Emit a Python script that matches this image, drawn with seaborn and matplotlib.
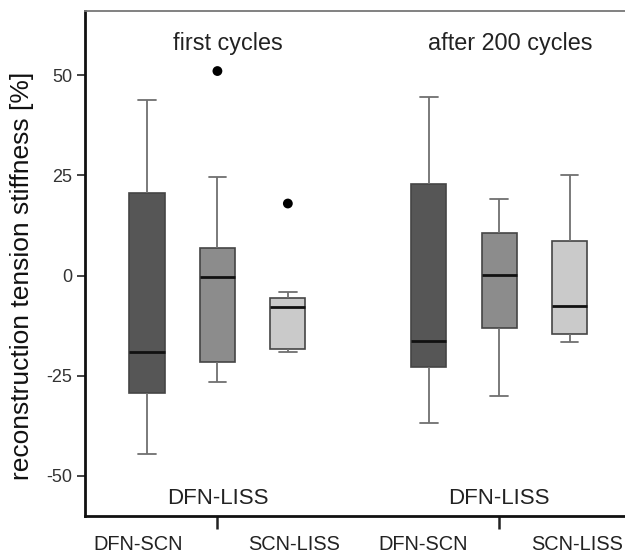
import numpy as np
import pandas as pd
import matplotlib
matplotlib.use("Agg")
import matplotlib.pyplot as plt
import seaborn as sns

# ---- data ----
positions = [0, 1, 2, 4, 5, 6]
groups = ["DFN-SCN", "DFN-LISS", "SCN-LISS", "DFN-SCN", "DFN-LISS", "SCN-LISS"]
phase = ["first cycles"] * 3 + ["after 200 cycles"] * 3
whisker_low = [-44.5, -26.5, -19.0, -36.8, -30.1, -16.5]
q1 = [-29.3, -21.5, -18.3, -22.8, -13.0, -14.5]
median = [-19.1, -0.3, -7.8, -16.3, 0.1, -7.6]
q3 = [20.7, 6.9, -5.6, 22.8, 10.7, 8.7]
whisker_high = [43.9, 24.5, -4.2, 44.5, 19.2, 25.2]
outlier_pos = [1, 2]
outlier_val = [51.1, 18.0]
colors = ["#565656", "#8c8c8c", "#cacaca", "#565656", "#8c8c8c", "#cacaca"]
xlabel_text = ["DFN-SCN", "SCN-LISS", "DFN-SCN", "SCN-LISS"]
ytick_vals = [-50, -25, 0, 25, 50]

rows = []
for p, lo, a, m, b, hi in zip(positions, whisker_low, q1, median, q3, whisker_high):
    for v in (lo, a, m, b, hi):
        rows.append({"pos": p, "value": v})
df = pd.DataFrame(rows)

sns.set_theme(style="white")
plt.rcParams["font.family"] = ["Liberation Sans", "DejaVu Sans"]

fig = plt.figure(figsize=(6.25, 5.55), dpi=100)
ax = fig.add_axes([85 / 625, 1 - 515.7 / 555, 1 - 85 / 625 + 0.006, (515.7 - 11) / 555])

palette = {p: c for p, c in zip(positions, colors)}
sns.boxplot(data=df, x="pos", y="value", hue="pos", palette=palette,
            native_scale=True, width=0.5, whis=np.inf, legend=False,
            linecolor="#454545", linewidth=1.2, saturation=1, ax=ax,
            whiskerprops=dict(color="#707070", linewidth=1.3),
            capprops=dict(color="#707070", linewidth=1.3),
            medianprops=dict(color="#111111", linewidth=2.0))

sns.scatterplot(x=outlier_pos, y=outlier_val, color="black", s=50,
                edgecolor="none", ax=ax, zorder=5)

ax.set_xlim(-0.88, 6.84)
ax.set_ylim(-60, 66.1)
ax.set_yticks(ytick_vals)
ax.set_yticklabels([str(v) for v in ytick_vals])
ax.tick_params(axis="y", which="major", left=True, length=6, width=1.2,
               color="#222222", labelsize=13, labelcolor="#333333", pad=3)

ax.set_xticks([-0.12, 2.09, 3.92, 6.1])
ax.set_xticklabels(xlabel_text)
ax.set_xticks([1, 5], minor=True)
ax.tick_params(axis="x", which="major", bottom=False, length=0, labelsize=14.4,
               labelcolor="#222222", pad=14)
ax.tick_params(axis="x", which="minor", bottom=True, length=9, width=1.8,
               color="#222222")

ax.set_xlabel("")
ax.set_ylabel("reconstruction tension stiffness [%]", fontsize=19,
              color="#111111", labelpad=9)
ax.yaxis.label.set_y(0.475)

for s in ("left", "bottom"):
    ax.spines[s].set_color("#111111")
    ax.spines[s].set_linewidth(2.0)
ax.spines["top"].set_color("#777777")
ax.spines["top"].set_linewidth(1.3)
ax.spines["right"].set_visible(False)

ax.text(1.15, 58.1, "first cycles", ha="center", va="center", fontsize=16.8, color="#222222")
ax.text(5.16, 58.1, "after 200 cycles", ha="center", va="center", fontsize=16.8, color="#222222")
ax.text(1.0, -55.6, "DFN-LISS", ha="center", va="center", fontsize=16, color="#222222")
ax.text(5.0, -55.6, "DFN-LISS", ha="center", va="center", fontsize=16, color="#222222")

fig.savefig("out.png", dpi=100)
